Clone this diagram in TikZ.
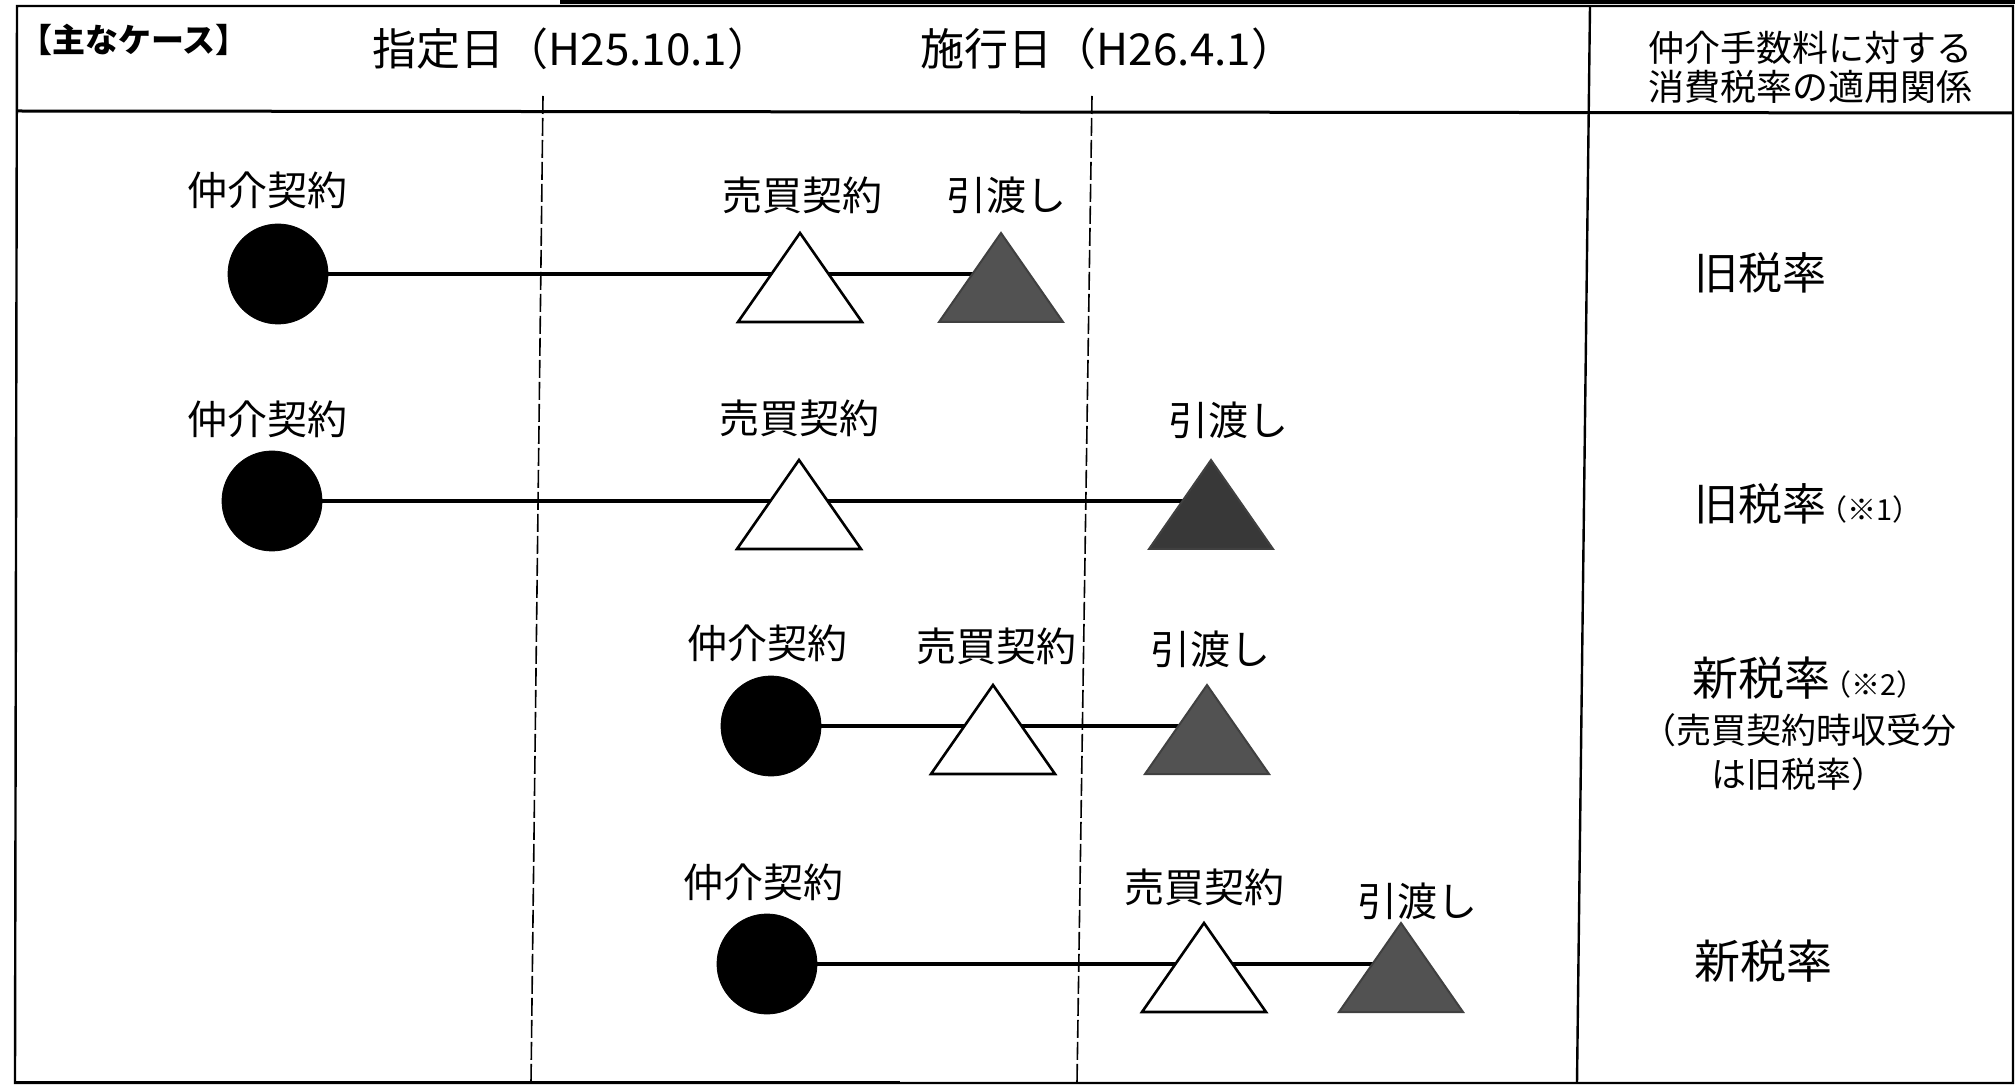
\documentclass[tikz,border=0pt]{standalone}
\usepackage{fontspec}
\setmainfont{Noto Sans CJK JP}
\begin{document}
\begin{tikzpicture}[x=0.5pt,y=-0.5pt,
  frameline/.style={line width=1.2pt,black},
  dashline/.style={line width=0.8pt,dash pattern=on 9pt off 2pt},
  conn/.style={line width=1.6pt},
  dot/.style={circle,fill=black,draw=black,minimum size=50pt,inner sep=0pt},
  opentri/.style={draw=black,fill=white,line width=1.3pt,line join=miter},
  filltri/.style={draw=black!75,fill=black!68,line width=1pt,line join=miter},
  lbl/.style={font=\fontsize{20pt}{24pt}\selectfont,inner sep=0pt},
  hdr/.style={font=\fontsize{22pt}{26pt}\selectfont,inner sep=0pt},
  rate/.style={font=\fontsize{22pt}{26pt}\selectfont,inner sep=0pt},
  small/.style={font=\fontsize{17.5pt}{21pt}\selectfont,inner sep=0pt}]
\useasboundingbox (0,0) rectangle (2015,1085);
\newcommand\mytri[2]{\path[#1] ([shift={(-62,48)}]#2) -- ([shift={(62,48)}]#2) -- ([shift={(0,-41)}]#2) -- cycle;}
\newcommand\notemark[1]{\hspace{-4pt}{\fontsize{14.5pt}{16pt}\selectfont（※#1）}}
% frame
\coordinate (tl) at (17,6);
\coordinate (tr) at (2013,6);
\coordinate (bl) at (15,1083);
\coordinate (br) at (2013,1083);
\draw[frameline] (tl) -- (tr) -- (br) -- (bl) -- cycle;
\draw[line width=2.5pt] (560,2) -- (2015,2);
\draw[line width=1.5pt] (15,1082) -- (900,1082);
\coordinate (hl) at (17,111);
\coordinate (hr) at (2013,113);
\draw[line width=1.5pt] (hl) -- (hr);
\coordinate (dvt) at (1590,6);
\coordinate (dvb) at (1577,1083);
\draw[frameline] (dvt) -- (dvb);
\coordinate (d1t) at (543,96);
\coordinate (d1b) at (531,1083);
\coordinate (d2t) at (1092,96);
\coordinate (d2b) at (1077,1083);
\draw[dashline] (d1t) -- (d1b);
\draw[dashline] (d2t) -- (d2b);
% header
\node[anchor=west,font=\fontsize{16.5pt}{20pt}\selectfont\bfseries,inner sep=0pt] (case) at (19,40) {【主なケース】};
\node[hdr] (shitei) at (572,49) {指定日（H25.10.1）};
\node[hdr] (shiko) at (1108,49) {施行日（H26.4.1）};
\node[font=\fontsize{18pt}{22pt}\selectfont,inner sep=0pt] (rh1) at (1810,48) {仲介手数料に対する};
\node[font=\fontsize{18pt}{22pt}\selectfont,inner sep=0pt] (rh2) at (1810,87) {消費税率の適用関係};
% row 1
\node[dot] (c1) at (278,274) {};
\coordinate (o1) at (800,274);
\coordinate (f1) at (1001,274);
\draw[conn] (c1) -- (f1);
\mytri{opentri}{o1}
\mytri{filltri}{f1}
\node[lbl] (l1a) at (267,190) {仲介契約};
\node[lbl] (l1b) at (802,195) {売買契約};
\node[lbl] (l1c) at (1006,195) {引渡し};
\node[rate] (r1) at (1760,273) {旧税率};
% row 2
\node[dot] (c2) at (272,501) {};
\coordinate (o2) at (799,501);
\coordinate (f2) at (1211,501);
\draw[conn] (c2) -- (f2);
\mytri{opentri}{o2}
\mytri{filltri,fill=black!78}{f2}
\node[lbl] (l2a) at (267,419) {仲介契約};
\node[lbl] (l2b) at (799,418) {売買契約};
\node[lbl] (l2c) at (1228,420) {引渡し};
\node[rate,anchor=west] (r2) at (1694,504) {旧税率\notemark{1}};
% row 3
\node[dot] (c3) at (771,726) {};
\coordinate (o3) at (993,726);
\coordinate (f3) at (1207,726);
\draw[conn] (c3) -- (f3);
\mytri{opentri}{o3}
\mytri{filltri}{f3}
\node[lbl] (l3a) at (767,643) {仲介契約};
\node[lbl] (l3b) at (996,646) {売買契約};
\node[lbl] (l3c) at (1210,649) {引渡し};
\node[rate,anchor=west,font=\fontsize{23pt}{27pt}\selectfont] (r3) at (1692,678) {新税率\notemark{2}};
\node[small] (r3b) at (1799,730) {（売買契約時収受分};
\node[small] (r3c) at (1799,774) {は旧税率）};
% row 4
\node[dot] (c4) at (767,964) {};
\coordinate (o4) at (1204,964);
\coordinate (f4) at (1401,964);
\draw[conn] (c4) -- (f4);
\mytri{opentri}{o4}
\mytri{filltri}{f4}
\node[lbl] (l4a) at (763,882) {仲介契約};
\node[lbl] (l4b) at (1204,887) {売買契約};
\node[lbl] (l4c) at (1417,901) {引渡し};
\node[rate,font=\fontsize{23pt}{27pt}\selectfont] (r4) at (1763,961) {新税率};
\end{tikzpicture}
\end{document}
